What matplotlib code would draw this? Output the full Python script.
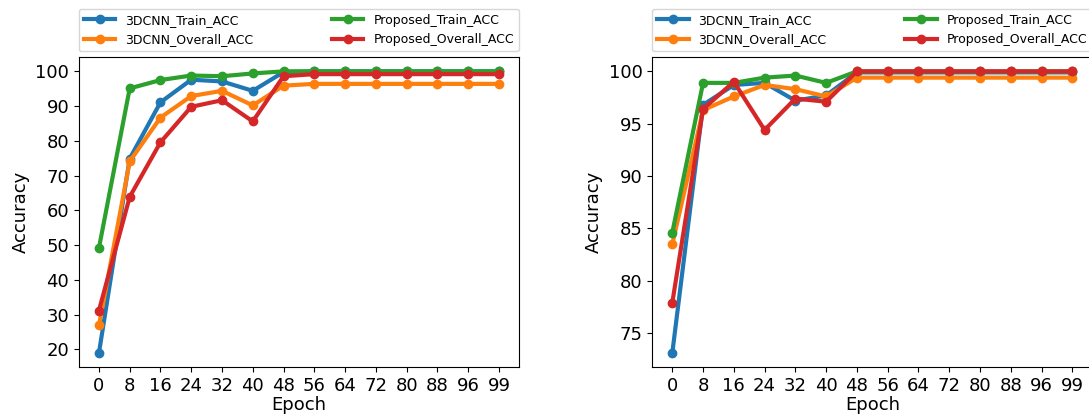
import numpy as np
import matplotlib
matplotlib.use("Agg")
import matplotlib.pyplot as plt
from matplotlib.ticker import MultipleLocator

epochs = ['0', '8', '16', '24', '32', '40', '48', '56', '64', '72', '80', '88', '96', '99']

# left panel
cnn_train_a = [19.0, 74.9, 91.1, 97.6, 97.1, 94.4, 99.8, 100, 100, 100, 100, 100, 100, 100]
cnn_overall_a = [26.9, 74.1, 86.7, 92.9, 94.4, 90.2, 95.9, 96.4, 96.4, 96.4, 96.4, 96.4, 96.4, 96.4]
prop_train_a = [49.2, 95.1, 97.5, 98.8, 98.6, 99.4, 100, 100, 100, 100, 100, 100, 100, 100]
prop_overall_a = [31.2, 63.9, 79.6, 89.8, 91.7, 85.6, 98.6, 99.2, 99.2, 99.2, 99.2, 99.2, 99.2, 99.2]

# right panel
cnn_train_b = [73.1, 96.8, 98.7, 98.9, 97.2, 97.7, 99.9, 99.9, 99.9, 99.9, 99.9, 99.9, 99.9, 99.9]
cnn_overall_b = [83.5, 96.3, 97.6, 98.7, 98.3, 97.6, 99.4, 99.4, 99.4, 99.4, 99.4, 99.4, 99.4, 99.4]
prop_train_b = [84.6, 98.9, 98.9, 99.4, 99.6, 98.9, 100, 100, 100, 100, 100, 100, 100, 100]
prop_overall_b = [77.9, 96.4, 99.0, 94.4, 97.4, 97.1, 100, 100, 100, 100, 100, 100, 100, 100]

names = ['3DCNN_Train_ACC', '3DCNN_Overall_ACC', 'Proposed_Train_ACC', 'Proposed_Overall_ACC']
colors = ['#1f77b4', '#ff7f0e', '#2ca02c', '#d62728']

fig = plt.figure(figsize=(10.89, 4.16), dpi=100)
ax1 = fig.add_axes([0.0725, 0.1178, 0.404, 0.7445])
ax2 = fig.add_axes([0.599, 0.1178, 0.404, 0.7445])

x = np.arange(len(epochs))
panels = [(ax1, [cnn_train_a, cnn_overall_a, prop_train_a, prop_overall_a], 10),
          (ax2, [cnn_train_b, cnn_overall_b, prop_train_b, prop_overall_b], 5)]

for ax, series, step in panels:
    for s, name, c in zip(series, names, colors):
        ax.plot(x, s, marker='o', lw=3, ms=6, color=c, label=name)
    ax.set_xticks(x)
    ax.set_xticklabels(epochs)
    ax.yaxis.set_major_locator(MultipleLocator(step))
    ax.tick_params(labelsize=13)
    ax.set_xlabel('Epoch', fontsize=13, labelpad=1)
    ax.set_ylabel('Accuracy', fontsize=13)
    ax.legend(bbox_to_anchor=(0, 1.02, 1, 0.102), loc='lower left', ncol=2,
              mode='expand', borderaxespad=0, fontsize=9, handlelength=2.5)

fig.savefig('out.png', dpi=100)
